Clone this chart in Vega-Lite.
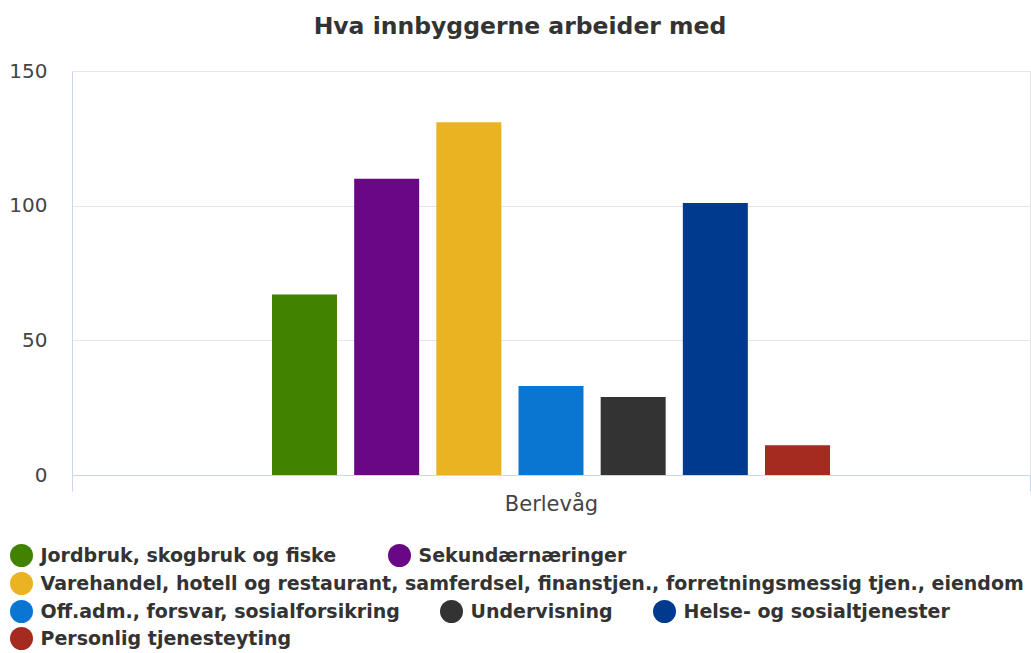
{
  "$schema": "https://vega.github.io/schema/vega-lite/v6.json",
  "width": 958,
  "height": 404,
  "autosize": {"type": "none"},
  "padding": {"left": 72, "top": 71, "right": 1, "bottom": 178},
  "background": "white",
  "title": {
    "text": "Hva innbyggerne arbeider med",
    "font": "DejaVu Sans",
    "fontSize": 23.5,
    "fontWeight": "bold",
    "color": "#333333",
    "anchor": "middle",
    "dx": -31,
    "offset": 23
  },
  "data": {
    "values": [
      {"kommune": "Berlevåg", "naering": "Jordbruk, skogbruk og fiske", "antall": 67},
      {"kommune": "Berlevåg", "naering": "Sekundærnæringer", "antall": 110},
      {"kommune": "Berlevåg", "naering": "Varehandel, hotell og restaurant, samferdsel, finanstjen., forretningsmessig tjen., eiendom", "antall": 131},
      {"kommune": "Berlevåg", "naering": "Off.adm., forsvar, sosialforsikring", "antall": 33},
      {"kommune": "Berlevåg", "naering": "Undervisning", "antall": 29},
      {"kommune": "Berlevåg", "naering": "Helse- og sosialtjenester", "antall": 101},
      {"kommune": "Berlevåg", "naering": "Personlig tjenesteyting", "antall": 11}
    ]
  },
  "encoding": {
    "x": {
      "field": "kommune",
      "type": "nominal",
      "title": null,
      "scale": {"paddingInner": 0, "paddingOuter": 0},
      "axis": {
        "labelAngle": 0,
        "labelFont": "DejaVu Sans",
        "labelFontSize": 21,
        "labelColor": "#444444",
        "labelPadding": 2,
        "domainColor": "#ccd6eb",
        "tickColor": "#ccd6eb",
        "tickSize": 16,
        "tickBand": "extent",
        "grid": false
      }
    },
    "xOffset": {
      "field": "naering",
      "type": "nominal",
      "scale": {
        "domain": [
          "_pad1",
          "_pad2",
          "Jordbruk, skogbruk og fiske",
          "Sekundærnæringer",
          "Varehandel, hotell og restaurant, samferdsel, finanstjen., forretningsmessig tjen., eiendom",
          "Off.adm., forsvar, sosialforsikring",
          "Undervisning",
          "Helse- og sosialtjenester",
          "Personlig tjenesteyting",
          "_pad3",
          "_pad4"
        ],
        "paddingInner": 0.209,
        "paddingOuter": 0.434
      }
    },
    "y": {
      "field": "antall",
      "type": "quantitative",
      "title": null,
      "scale": {"domain": [0, 150], "nice": false},
      "axis": {
        "values": [0, 50, 100, 150],
        "labelFont": "DejaVu Sans",
        "labelFontSize": 20,
        "labelColor": "#444444",
        "labelPadding": 25,
        "ticks": false,
        "domain": true,
        "domainColor": "#ccd6eb",
        "gridColor": "#e6e6e6",
        "gridWidth": 1
      }
    }
  },
  "layer": [
    {
      "transform": [{"filter": {"field": "naering", "oneOf": ["Jordbruk, skogbruk og fiske", "Sekundærnæringer"]}}],
      "mark": {"type": "bar"},
      "encoding": {
        "color": {
          "field": "naering",
          "type": "nominal",
          "scale": {"domain": ["Jordbruk, skogbruk og fiske", "Sekundærnæringer"], "range": ["#418300", "#6a0787"]},
          "legend": {"orient": "none", "legendX": -62, "legendY": 473, "direction": "horizontal", "title": null, "columnPadding": 51}
        }
      }
    },
    {
      "transform": [{"filter": {"field": "naering", "oneOf": ["Varehandel, hotell og restaurant, samferdsel, finanstjen., forretningsmessig tjen., eiendom"]}}],
      "mark": {"type": "bar"},
      "encoding": {
        "color": {
          "field": "naering",
          "type": "nominal",
          "scale": {"domain": ["Varehandel, hotell og restaurant, samferdsel, finanstjen., forretningsmessig tjen., eiendom"], "range": ["#eab322"]},
          "legend": {"orient": "none", "legendX": -62, "legendY": 501, "direction": "horizontal", "title": null}
        }
      }
    },
    {
      "transform": [{"filter": {"field": "naering", "oneOf": ["Off.adm., forsvar, sosialforsikring", "Undervisning", "Helse- og sosialtjenester"]}}],
      "mark": {"type": "bar"},
      "encoding": {
        "color": {
          "field": "naering",
          "type": "nominal",
          "scale": {"domain": ["Off.adm., forsvar, sosialforsikring", "Undervisning", "Helse- og sosialtjenester"], "range": ["#0a76d2", "#333333", "#003a8f"]},
          "legend": {"orient": "none", "legendX": -62, "legendY": 529, "direction": "horizontal", "title": null, "columnPadding": 40}
        }
      }
    },
    {
      "transform": [{"filter": {"field": "naering", "oneOf": ["Personlig tjenesteyting"]}}],
      "mark": {"type": "bar"},
      "encoding": {
        "color": {
          "field": "naering",
          "type": "nominal",
          "scale": {"domain": ["Personlig tjenesteyting"], "range": ["#a52a1f"]},
          "legend": {"orient": "none", "legendX": -62, "legendY": 556, "direction": "horizontal", "title": null}
        }
      }
    }
  ],
  "resolve": {"scale": {"color": "independent"}, "legend": {"color": "independent"}},
  "config": {
    "font": "DejaVu Sans",
    "view": {"stroke": "#e6e6e6"},
    "legend": {
      "labelFont": "DejaVu Sans",
      "labelFontSize": 19,
      "labelFontWeight": "bold",
      "labelColor": "#333333",
      "labelLimit": 1200,
      "labelOffset": 7.5,
      "symbolType": "circle",
      "symbolSize": 529,
      "symbolStrokeWidth": 0,
      "symbolOpacity": 1,
      "columnPadding": 40,
      "padding": 0
    }
  }
}
